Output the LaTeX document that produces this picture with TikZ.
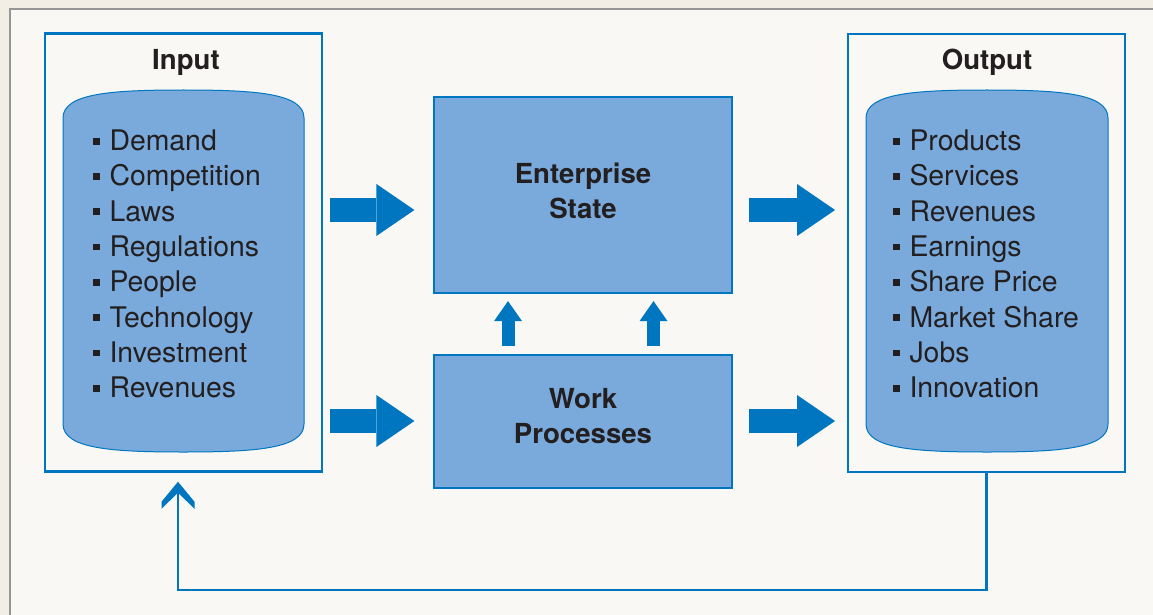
\documentclass[tikz,border=0pt]{standalone}
\usepackage{fontspec}
\setmainfont{TeX Gyre Heros}
\usetikzlibrary{arrows.meta,calc}

\definecolor{pagebg}{RGB}{249,248,244}
\definecolor{marginbg}{RGB}{243,238,229}
\definecolor{framegray}{RGB}{150,150,150}
\definecolor{flowblue}{RGB}{0,118,192}
\definecolor{panefill}{RGB}{122,170,219}
\definecolor{ink}{RGB}{35,31,32}

\tikzset{
  frame/.style={draw=flowblue, line width=2.5pt, fill=pagebg, inner sep=0pt,
    minimum width=277pt, minimum height=438pt},
  pane/.style={draw=flowblue, line width=1pt, fill=panefill},
  stage/.style={draw=flowblue, line width=1.2pt, fill=panefill, inner sep=0pt,
    minimum width=298pt},
  heading/.style={font=\bfseries\fontsize{27.6}{32}\selectfont, text=ink,
    anchor=base, inner sep=0pt},
  item/.style={font=\fontsize{28.4}{32}\selectfont, text=ink,
    anchor=base west, inner sep=0pt},
  bigarrow/.style={draw=flowblue, line width=24pt,
    -{Triangle[length=38pt, width=52pt, line width=0pt]}},
  smallarrow/.style={draw=flowblue, line width=13pt,
    -{Triangle[length=20pt, width=28pt, line width=0pt]}},
  feedback/.style={draw=flowblue, line width=2.8pt, line join=miter},
}

% square list marker followed by its gap
\newcommand\sqbullet{\rule[6pt]{6.5pt}{6.8pt}\hspace{9.8pt}}

% rounded container between x = #1 and x = #2
\newcommand\drawpane[2]{%
  \draw[pane] ({#1},118) .. controls ({#1},93) and ({#1+50},90) .. ({(#1+#2)/2},90)
    .. controls ({#2-50},90) and ({#2},93) .. ({#2},118)
    -- ({#2},424) .. controls ({#2},449) and ({#2-50},452) .. ({(#1+#2)/2},452)
    .. controls ({#1+50},452) and ({#1},449) .. ({#1},424) -- cycle;}

\begin{document}
\begin{tikzpicture}[x=1pt, y=-1pt]
  \useasboundingbox (0,0) rectangle (1153,615);
  \clip (0,0) rectangle (1153,615);

  % sheet
  \fill[marginbg] (0,0) rectangle (1153,615);
  \filldraw[fill=pagebg, draw=framegray, line width=1.5pt] (10,9) rectangle (1180,640);

  % helper rows and columns
  \coordinate (toprow) at (0,210);
  \coordinate (botrow) at (0,421);
  \coordinate (lcol) at (508,0);
  \coordinate (rcol) at (653.5,0);
  \coordinate (fbcol) at (178,0);
  \coordinate (fbrow) at (0,590);

  % input and output frames
  \node[frame] (inbox) at (183.5,252.5) {};
  \node[frame] (outbox) at (986.3,252.8) {};
  \drawpane{63}{304}
  \drawpane{866}{1108}

  \node[heading] (intitle) at (186,69.5) {Input};
  \node[heading] (outtitle) at (987,69.5) {Output};

  \foreach \t [count=\i from 0] in {Demand,Competition,Laws,Regulations,People,Technology,Investment,Revenues}
    \node[item] (in\i) at (93,150.5+35.3*\i) {\sqbullet\t};
  \foreach \t [count=\i from 0] in {Products,Services,Revenues,Earnings,Share Price,Market Share,Jobs,Innovation}
    \node[item] (out\i) at (893,150.5+35.3*\i) {\sqbullet\t};

  % central stages
  \node[stage, minimum height=196pt] (es) at (583,195) {};
  \node[stage, minimum height=133pt] (wp) at (583,421.5) {};
  \node[heading] (es1) at (583,183) {Enterprise};
  \node[heading] (es2) at (583,218) {State};
  \node[heading] (wp1) at (583,408.5) {Work};
  \node[heading] (wp2) at (583,443.5) {Processes};

  % flow arrows
  \draw[bigarrow] ($(inbox.east |- toprow)+(7,0)$) -- ($(es.west |- toprow)+(-19,0)$);
  \draw[bigarrow] ($(inbox.east |- botrow)+(7,0)$) -- ($(wp.west |- botrow)+(-19,0)$);
  \draw[bigarrow] ($(es.east |- toprow)+(16.5,0)$) -- ($(outbox.west |- toprow)+(-11.5,0)$);
  \draw[bigarrow] ($(wp.east |- botrow)+(16.5,0)$) -- ($(outbox.west |- botrow)+(-11.5,0)$);
  \draw[smallarrow] ($(wp.north -| lcol)+(0,-8.5)$) -- ($(es.south -| lcol)+(0,7.5)$);
  \draw[smallarrow] ($(wp.north -| rcol)+(0,-8.5)$) -- ($(es.south -| rcol)+(0,7.5)$);

  % feedback loop from output back to input
  \coordinate (fbtip) at ($(inbox.south -| fbcol)+(0,9)$);
  \draw[feedback] (outbox.south) |- (fbcol |- fbrow) -- ($(fbtip)+(0,10)$);
  \fill[flowblue] (fbtip) -- ++(-16.5,20) -- ++(0,7) -- ++(16.5,-16) -- ++(16.5,16)
    -- ++(0,-7) -- cycle;
\end{tikzpicture}
\end{document}
